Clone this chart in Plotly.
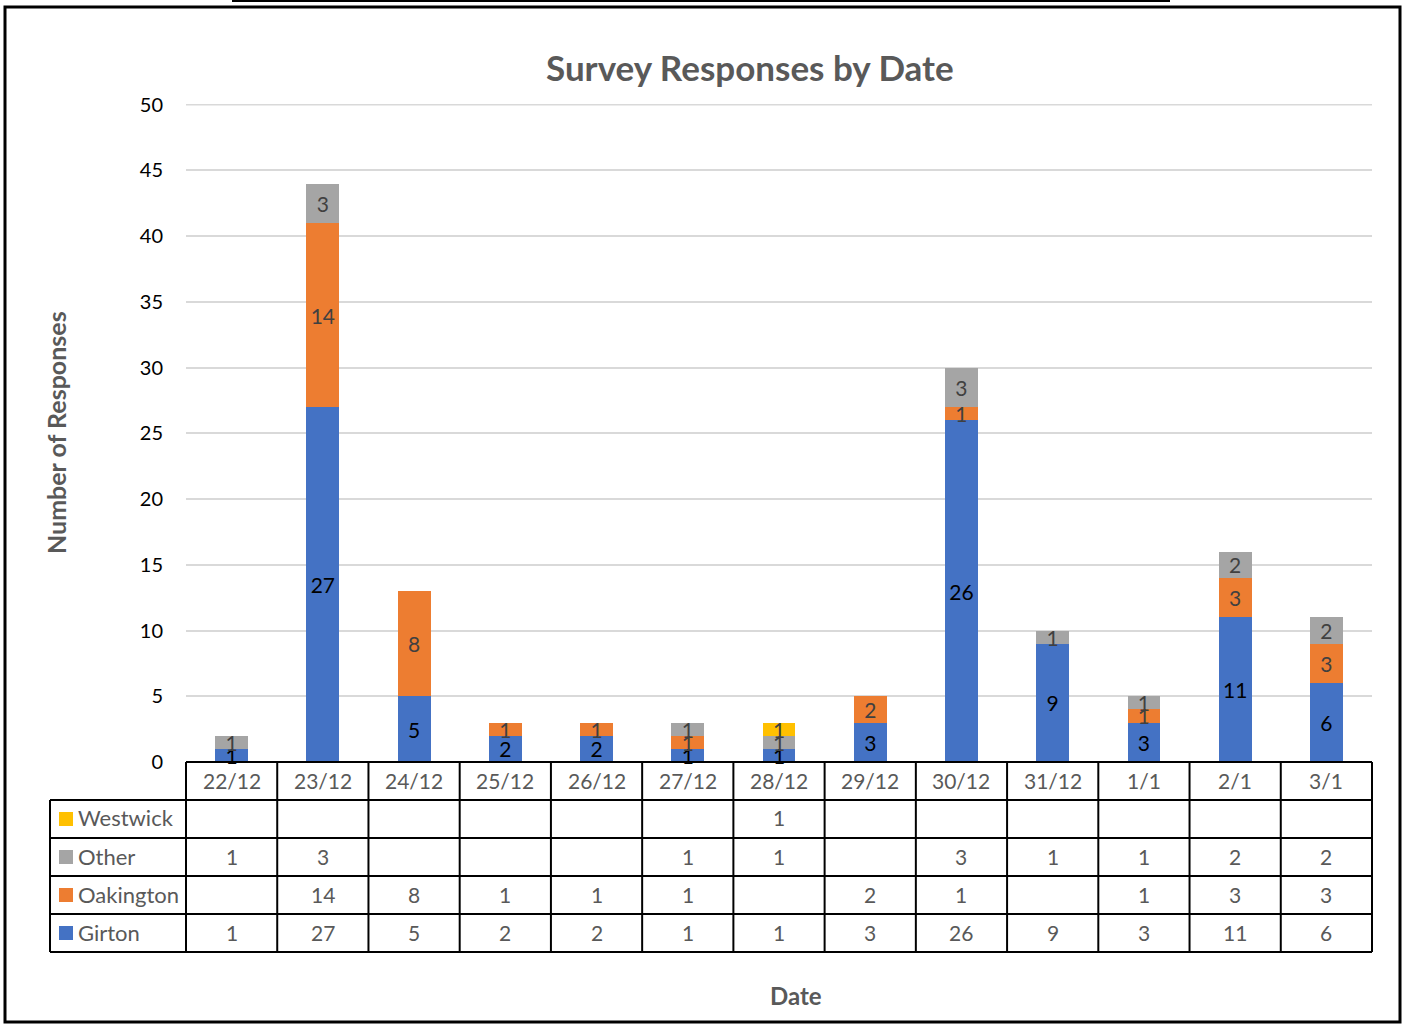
import plotly.graph_objects as go

# Survey responses per day, by village
dates = ["22/12", "23/12", "24/12", "25/12", "26/12", "27/12", "28/12",
         "29/12", "30/12", "31/12", "1/1", "2/1", "3/1"]
girton = [1, 27, 5, 2, 2, 1, 1, 3, 26, 9, 3, 11, 6]
oakington = [None, 14, 8, 1, 1, 1, None, 2, 1, None, 1, 3, 3]
other = [1, 3, None, None, None, 1, 1, None, 3, 1, 1, 2, 2]
westwick = [None, None, None, None, None, None, 1, None, None, None, None, None, None]
y_ticks = [0, 5, 10, 15, 20, 25, 30, 35, 40, 45, 50]

series = [
    ("Girton", girton, "#4472C4", "#000000"),
    ("Oakington", oakington, "#ED7D31", "#404040"),
    ("Other", other, "#A5A5A5", "#404040"),
    ("Westwick", westwick, "#FFC000", "#404040"),
]

W, H = 1402, 1025
PL, PR, PT, PB = 186, 1372, 104, 762   # plot area in pixels
FONT = "Lato"


def px(x):
    return (x - PL) / (PR - PL)


def py(y):
    return (PB - y) / (PB - PT)


fig = go.Figure()
for name, vals, color, tcolor in series:
    fig.add_trace(go.Bar(
        x=dates, y=vals, name=name,
        marker=dict(color=color, line=dict(width=0)),
        text=[("" if v is None else str(v)) for v in vals],
        textposition="inside", insidetextanchor="middle", textangle=0,
        constraintext="none", cliponaxis=False,
        textfont=dict(family=FONT, size=21, color=tcolor),
        showlegend=False,
    ))

shapes = []
annotations = []
line = dict(color="black", width=2)

# Top gridline (the one at the axis maximum is not drawn by the axis itself)
shapes.append(dict(type="line", xref="paper", yref="y", x0=0, x1=1,
                   y0=y_ticks[-1], y1=y_ticks[-1], layer="below",
                   line=dict(color="#D9D9D9", width=1.5)))

# Data table below the axis
header_top, row_h = PB, 38
rows = [("Westwick", westwick, "#FFC000"), ("Other", other, "#A5A5A5"),
        ("Oakington", oakington, "#ED7D31"), ("Girton", girton, "#4472C4")]
n = len(dates)
col_w = (PR - PL) / n
table_left = 50
bottom = header_top + row_h * (1 + len(rows))

# horizontal rules
shapes.append(dict(type="line", xref="paper", yref="paper", x0=px(PL), x1=px(PR),
                   y0=py(header_top), y1=py(header_top), line=line))
for r in range(1, len(rows) + 2):
    yy = header_top + r * row_h
    shapes.append(dict(type="line", xref="paper", yref="paper", x0=px(table_left), x1=px(PR),
                       y0=py(yy), y1=py(yy), line=line))
# vertical rules
shapes.append(dict(type="line", xref="paper", yref="paper", x0=px(table_left), x1=px(table_left),
                   y0=py(header_top + row_h), y1=py(bottom), line=line))
for c in range(n + 1):
    xx = PL + c * col_w
    shapes.append(dict(type="line", xref="paper", yref="paper", x0=px(xx), x1=px(xx),
                       y0=py(header_top), y1=py(bottom), line=line))

head_font = dict(family=FONT, size=21, color="#595959")
cell_font = dict(family=FONT, size=21, color="#595959")
label_font = dict(family=FONT, size=22, color="#595959")
for c, d in enumerate(dates):
    annotations.append(dict(x=d, xref="x", yref="paper", y=py(header_top + row_h / 2 - 1),
                            text=d, showarrow=False, font=head_font,
                            xanchor="center", yanchor="middle"))
for r, (name, vals, color) in enumerate(rows):
    yc = header_top + (r + 1.5) * row_h
    shapes.append(dict(type="rect", xref="paper", yref="paper",
                       x0=px(59), x1=px(73), y0=py(yc - 7), y1=py(yc + 7),
                       fillcolor=color, line=dict(width=0)))
    annotations.append(dict(x=px(76), xref="paper", yref="paper", y=py(yc - 1), text=name,
                            showarrow=False, font=label_font, xanchor="left", yanchor="middle"))
    for d, v in zip(dates, vals):
        if v is not None:
            annotations.append(dict(x=d, xref="x", yref="paper", y=py(yc - 1), text=str(v),
                                    showarrow=False, font=cell_font,
                                    xanchor="center", yanchor="middle"))

# Titles
annotations.append(dict(x=px(750), y=py(67), xref="paper", yref="paper",
                        text="<b>Survey Responses by Date</b>", showarrow=False,
                        font=dict(family=FONT, size=35, color="#595959"),
                        xanchor="center", yanchor="middle"))
annotations.append(dict(x=px(796), y=py(995), xref="paper", yref="paper",
                        text="<b>Date</b>", showarrow=False,
                        font=dict(family=FONT, size=24, color="#595959"),
                        xanchor="center", yanchor="middle"))
annotations.append(dict(x=px(56), y=py(433), xref="paper", yref="paper",
                        text="<b>Number of Responses</b>", showarrow=False, textangle=-90,
                        font=dict(family=FONT, size=25, color="#595959"),
                        xanchor="center", yanchor="middle"))

# Outer frame
shapes.append(dict(type="rect", xref="paper", yref="paper",
                   x0=px(5), x1=px(1400), y0=py(7), y1=py(1022),
                   line=dict(color="black", width=3), fillcolor="rgba(0,0,0,0)"))
shapes.append(dict(type="line", xref="paper", yref="paper",
                   x0=px(232), x1=px(1170), y0=py(1), y1=py(1),
                   line=dict(color="black", width=2)))

fig.update_layout(
    width=W, height=H,
    margin=dict(l=PL, r=W - PR, t=PT, b=H - PB, pad=0),
    barmode="stack", bargap=0.64,
    plot_bgcolor="white", paper_bgcolor="white",
    shapes=shapes, annotations=annotations,
    xaxis=dict(showticklabels=False, showgrid=False, zeroline=False, showline=False,
               ticks=""),
    yaxis=dict(range=[0, 50.05], tickvals=y_ticks,
               showgrid=True, gridcolor="#D9D9D9", gridwidth=1.5,
               zeroline=False, showline=False, ticks="", ticklabelstandoff=22,
               tickfont=dict(family=FONT, size=20, color="#000000")),
)

fig.write_html("out.html")
